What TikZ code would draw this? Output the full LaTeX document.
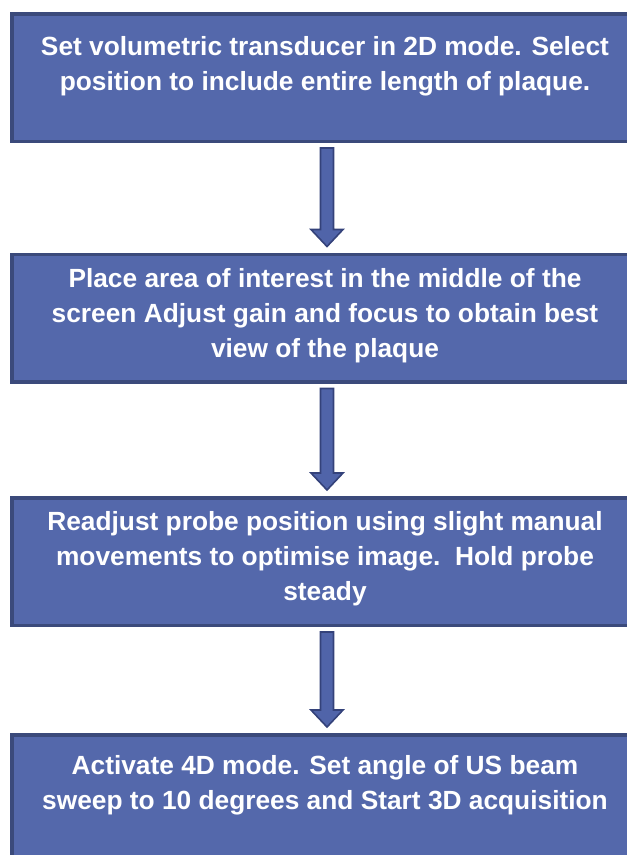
\documentclass[tikz,border=0pt]{standalone}
\usepackage{fontspec}
\setmainfont{Liberation Sans}
\usetikzlibrary{calc}

\definecolor{boxfill}{HTML}{5468AB}
\definecolor{boxedge}{HTML}{3B4A7B}
\definecolor{arrowfill}{HTML}{5064A9}
\definecolor{arrowedge}{HTML}{34427A}

\tikzset{
  stepbox/.style={draw=boxedge, fill=boxfill, line width=3.5pt,
    minimum width=630.5pt, minimum height=127.5pt, inner sep=0pt, outer sep=0pt},
  steptext/.style={anchor=north, align=center, text=white, inner sep=0pt,
    font=\bfseries\fontsize{26.3}{35}\selectfont},
  flow/.style={fill=arrowfill, draw=arrowedge, line width=1.6pt, line join=miter}
}

% block arrow from the bottom of one box to the top of the next
\newcommand\flowarrow[2]{%
  \path[flow] let \p1=($(#1.south)+(0pt,-6.75pt)$), \p2=($(#2.north)+(0pt,7.75pt)$) in
    (\x1-6.5pt,\y1) -- (\x1-6.5pt,\y2+17pt) -- (\x1-16pt,\y2+17pt) -- (\x1,\y2)
    -- (\x1+16pt,\y2+17pt) -- (\x1+6.5pt,\y2+17pt) -- (\x1+6.5pt,\y1) -- cycle;}

\begin{document}
\begin{tikzpicture}[x=1pt, y=-1pt]
  \useasboundingbox (0,0) rectangle (627,855);
  \clip (0,0) rectangle (627,855);

  % process steps
  \node[stepbox] (b1) at (327,77.5) {};
  \node[stepbox] (b2) at (327,318) {};
  \node[stepbox] (b3) at (327,561.5) {};
  \node[stepbox] (b4) at (327,798.5) {};

  \node[steptext] (t1) at (325,36.2)
    {Set volumetric transducer in 2D mode. Select\\position to include entire length of plaque.};
  \node[steptext] (t2) at (325,268.2)
    {Place area of interest in the middle of the\\screen Adjust gain and focus to obtain best\\view of the plaque};
  \node[steptext] (t3) at (325,511.2)
    {Readjust probe position using slight manual\\movements to optimise image.\ \ Hold probe\\steady};
  \node[steptext] (t4) at (325,755.2)
    {Activate 4D mode. Set angle of US beam\\sweep to 10 degrees and Start 3D acquisition};

  % connectors
  \flowarrow{b1}{b2}
  \flowarrow{b2}{b3}
  \flowarrow{b3}{b4}
\end{tikzpicture}
\end{document}
